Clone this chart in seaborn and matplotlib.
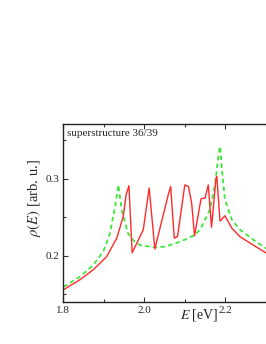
import numpy as np
import pandas as pd
import matplotlib
matplotlib.use("Agg")
import matplotlib.pyplot as plt
import seaborn as sns
from matplotlib.ticker import MultipleLocator

# density of states, superstructure 36/39 (red) vs reference (green, dashed)
red_E = [1.80, 1.841, 1.874, 1.907, 1.932, 1.948, 1.955, 1.962, 1.970, 1.9975,
         2.012, 2.026, 2.059, 2.065, 2.074, 2.082, 2.100, 2.109, 2.117, 2.124,
         2.140, 2.150, 2.158, 2.166, 2.177, 2.179, 2.187, 2.199, 2.216, 2.236,
         2.269, 2.30, 2.315]
red_rho = [0.156, 0.169, 0.182, 0.199, 0.223, 0.251, 0.279, 0.291, 0.204, 0.234,
           0.288, 0.209, 0.279, 0.290, 0.223, 0.225, 0.292, 0.290, 0.268, 0.226,
           0.274, 0.275, 0.292, 0.237, 0.301, 0.303, 0.245, 0.252, 0.236, 0.225,
           0.214, 0.204, 0.200]

green_E = [1.80, 1.808, 1.841, 1.874, 1.899, 1.915, 1.928, 1.936, 1.944, 1.960,
           1.973, 1.989, 2.026, 2.051, 2.076, 2.100, 2.124, 2.138, 2.162, 2.175,
           2.185, 2.187, 2.191, 2.199, 2.216, 2.236, 2.269, 2.30, 2.315]
green_rho = [0.160, 0.162, 0.173, 0.188, 0.206, 0.229, 0.264, 0.292, 0.260, 0.229,
             0.220, 0.214, 0.211, 0.212, 0.216, 0.221, 0.227, 0.234, 0.260, 0.294,
             0.338, 0.342, 0.316, 0.273, 0.247, 0.234, 0.221, 0.210, 0.206]

x_ticks = [1.8, 2.0, 2.2]
x_ticklabels = ["1.8", "2.0", "2.2"]
y_ticks = [0.2, 0.3]
y_ticklabels = ["0.2", "0.3"]

sns.set_style("ticks")
plt.rcParams['font.family'] = ['Liberation Serif', 'DejaVu Serif']
plt.rcParams['mathtext.fontset'] = 'stix'

fig = plt.figure(figsize=(2.66, 3.44), dpi=100)
# axes runs past the right edge of the figure, as in the reference crop
ax = fig.add_axes([0.238, 0.123, 0.782, 0.5165])

df_red = pd.DataFrame({"E": red_E, "rho": red_rho})
df_green = pd.DataFrame({"E": green_E, "rho": green_rho})

sns.lineplot(data=df_green, x="E", y="rho", ax=ax, color="#3ee63e",
             linewidth=1.3, sort=False)
ax.lines[-1].set_dashes((2.5, 1.8))
sns.lineplot(data=df_red, x="E", y="rho", ax=ax, color="#ff2a2a",
             linewidth=1.0, sort=False)

ax.set_xlim(1.8, 1.8 + 0.782 * 266 / 405)
ax.set_ylim(0.1406, 0.371)
ax.set_xticks(x_ticks)
ax.set_xticklabels(x_ticklabels)
ax.set_yticks(y_ticks)
ax.set_yticklabels(y_ticklabels)
ax.xaxis.set_minor_locator(MultipleLocator(0.1))
ax.yaxis.set_minor_locator(MultipleLocator(0.05))
ax.tick_params(which="both", direction="in", top=True, right=True,
               labelsize=8, pad=3, width=0.8, color="#333333")
ax.tick_params(which="major", length=3.5)
ax.tick_params(which="minor", length=2)
for s in ax.spines.values():
    s.set_linewidth(1.0)
    s.set_color("#222222")

ax.set_xlabel("")
ax.set_ylabel(r"$\rho(E)$ [arb. u.]", fontsize=10.5)
ax.yaxis.set_label_coords(-0.099, 0.583)
ax.text(0.655, -0.075, r"$E$ [eV]", transform=ax.transAxes, fontsize=10,
        ha="center", va="center")
ax.text(0.016, 0.944, "superstructure 36/39", transform=ax.transAxes,
        fontsize=8, ha="left", va="center")

fig.savefig("out.png", dpi=100)
